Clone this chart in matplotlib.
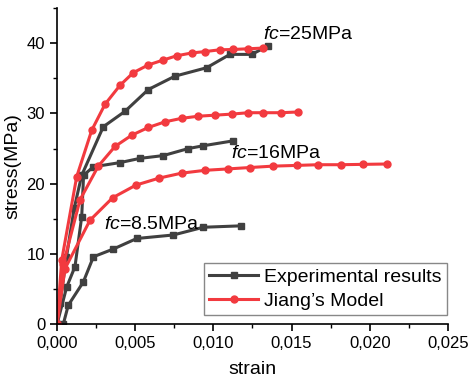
"""
Stress-strain curves: experimental results vs Jiang's model
for three concrete strengths (fc = 8.5, 16 and 25 MPa).
"""

import matplotlib
matplotlib.use("Agg")
import matplotlib.pyplot as plt
from matplotlib.ticker import FuncFormatter, MultipleLocator

plt.rcParams["font.family"] = ["Liberation Sans", "DejaVu Sans"]
plt.rcParams["mathtext.fontset"] = "custom"
plt.rcParams["mathtext.it"] = "Liberation Sans:italic"
plt.rcParams["mathtext.rm"] = "Liberation Sans"

GRAY = "#404040"
RED = "#f23a3f"

# experimental curves (strain, stress)
exp_25_strain = [0.0, 0.0002, 0.0006, 0.0011, 0.00158, 0.00296, 0.00435, 0.00584,
                 0.00754, 0.00957, 0.01106, 0.01245, 0.0135]
exp_25_stress = [0.0, 3.0, 9.5, 16.5, 21.2, 28.1, 30.3, 33.4,
                 35.3, 36.5, 38.4, 38.4, 39.6]

exp_16_strain = [0.0, 0.00062, 0.00115, 0.00158, 0.0017, 0.00232, 0.00403, 0.0053,
                 0.0068, 0.0084, 0.00936, 0.01128]
exp_16_stress = [0.0, 5.3, 8.2, 15.3, 21.2, 22.4, 23.0, 23.6,
                 24.0, 25.0, 25.4, 26.1]

exp_8_strain = [0.0004, 0.00072, 0.00168, 0.00233, 0.0036, 0.0051, 0.00744,
                0.00936, 0.01175]
exp_8_stress = [0.0, 2.7, 6.0, 9.6, 10.7, 12.2, 12.7, 13.8, 14.0]

# Jiang's model curves (strain, stress)
jiang_25_strain = [0.0, 0.0003, 0.00126, 0.00222, 0.00307, 0.00403, 0.00488, 0.00584,
                   0.0068, 0.00765, 0.00861, 0.00946, 0.0104, 0.01128, 0.01223, 0.0132]
jiang_25_stress = [0.0, 9.1, 21.0, 27.6, 31.3, 34.0, 35.8, 36.9,
                   37.6, 38.2, 38.6, 38.8, 39.05, 39.1, 39.2, 39.3]

jiang_16_strain = [0.0, 0.0004, 0.00147, 0.00264, 0.00371, 0.00478, 0.00584, 0.0069,
                   0.00797, 0.00903, 0.0101, 0.01117, 0.01223, 0.0132, 0.01432, 0.01539]
jiang_16_stress = [0.0, 8.5, 17.7, 22.5, 25.3, 26.9, 28.0, 28.8,
                   29.3, 29.6, 29.75, 29.9, 30.1, 30.1, 30.1, 30.2]

jiang_8_strain = [0.0, 0.00051, 0.00211, 0.00356, 0.00505, 0.00654, 0.00797, 0.00946,
                  0.01092, 0.01234, 0.01383, 0.01533, 0.0167, 0.01814, 0.01958, 0.02108]
jiang_8_stress = [0.0, 7.9, 14.8, 18.0, 19.8, 20.8, 21.5, 21.9,
                  22.1, 22.3, 22.5, 22.6, 22.7, 22.7, 22.75, 22.8]

labels = ["$\\it{fc}$=25MPa", "$\\it{fc}$=16MPa", "$\\it{fc}$=8.5MPa"]
label_x = [0.0132, 0.01113, 0.003]
label_y = [41.3, 24.3, 14.2]

fig = plt.figure(figsize=(4.75, 3.81), dpi=100)
ax = fig.add_axes([0.12, 0.149, 0.823, 0.83])

exp_style = dict(color=GRAY, lw=2.2, marker="s", ms=4.5)
jiang_style = dict(color=RED, lw=2.2, marker="o", ms=5)

ax.plot(exp_25_strain, exp_25_stress, label="Experimental results", **exp_style)
ax.plot(exp_16_strain, exp_16_stress, **exp_style)
ax.plot(exp_8_strain, exp_8_stress, **exp_style)
ax.plot(jiang_25_strain, jiang_25_stress, label="Jiang\u2019s Model", **jiang_style)
ax.plot(jiang_16_strain, jiang_16_stress, **jiang_style)
ax.plot(jiang_8_strain, jiang_8_stress, **jiang_style)

for text, x, y in zip(labels, label_x, label_y):
    ax.text(x, y, text, fontsize=14, va="center", ha="left")

ax.set_xlim(0, 0.025)
ax.set_ylim(0, 45)
ax.xaxis.set_major_locator(MultipleLocator(0.005))
ax.xaxis.set_minor_locator(MultipleLocator(0.0025))
ax.yaxis.set_major_locator(MultipleLocator(10))
ax.yaxis.set_minor_locator(MultipleLocator(5))
ax.xaxis.set_major_formatter(FuncFormatter(lambda v, p: f"{v:.3f}".replace(".", ",")))

for side in ["top", "right"]:
    ax.spines[side].set_visible(False)
for side in ["left", "bottom"]:
    ax.spines[side].set_linewidth(1.2)
ax.tick_params(which="major", direction="out", length=5, width=1.2, labelsize=12)
ax.tick_params(which="minor", direction="out", length=3, width=1.0)

ax.set_xlabel("strain", fontsize=14, labelpad=7)
ax.set_ylabel("stress(MPa)", fontsize=14, labelpad=4)

leg = ax.legend(loc="lower right", fontsize=14, numpoints=1, handlelength=2.5,
                fancybox=False, edgecolor="#888888", framealpha=1,
                borderpad=0.3, labelspacing=0.3, handletextpad=0.3,
                borderaxespad=0, bbox_to_anchor=(0.998, 0.028))
leg.get_frame().set_linewidth(1.0)

fig.savefig("out.png", dpi=100)
